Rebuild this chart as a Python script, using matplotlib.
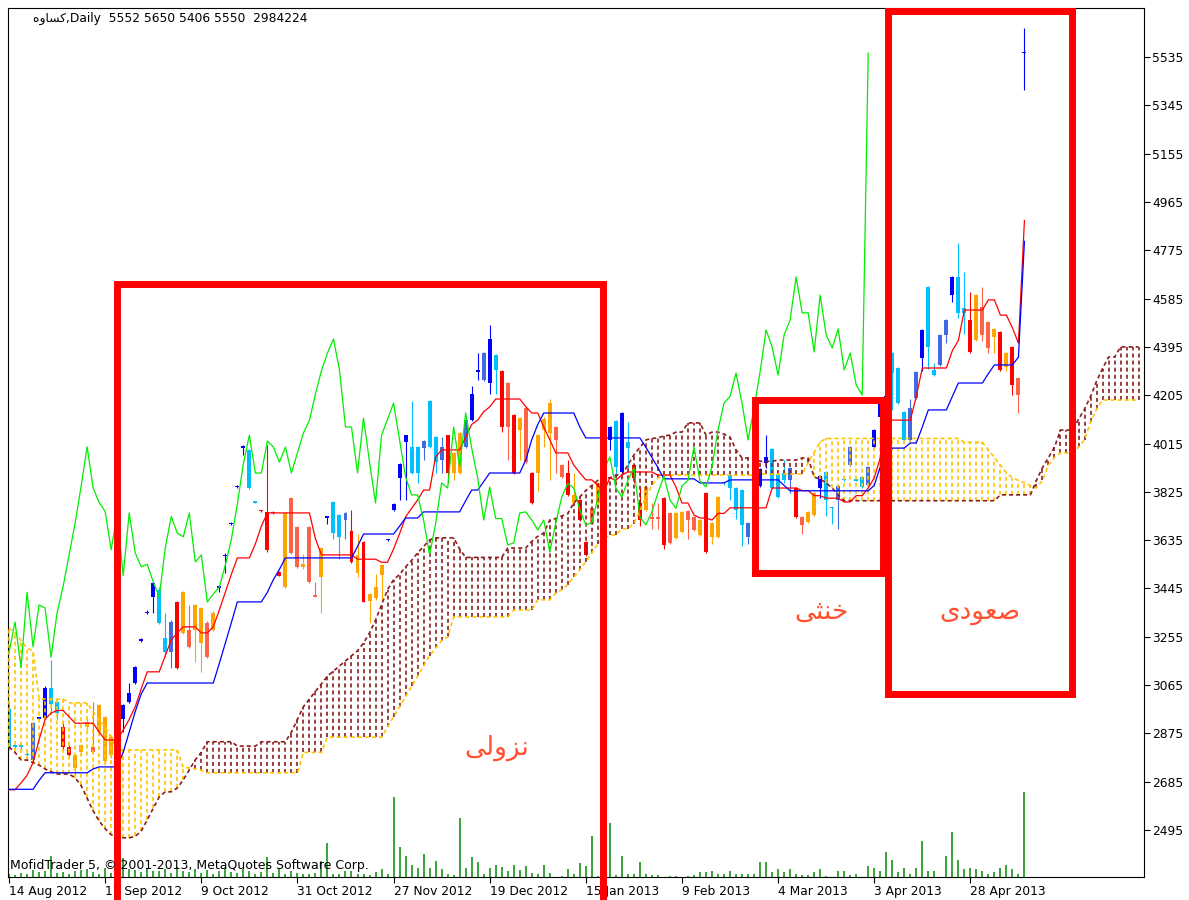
import numpy as np
import matplotlib.pyplot as plt
from matplotlib.transforms import blended_transform_factory

plt.rcParams['font.family'] = ['DejaVu Sans']
plt.rcParams['lines.scale_dashes'] = False

# ---- daily bars (bar 0 = 14 Aug 2012, bar 169 = last bar) ----
# colour code per bar: B blue, R royal blue, C sky blue, r red, o orange, t tomato
bar_colour = ("CCCCRBBCCr" "roootoooBB" "BBBBBCCRro" "tootoBBBBB" "CCrrrrotto"
              "ttoBCCRror" "oooBBBBCCR" "CCRrooRBBR" "BCrtrotroo" "ottrorrtoo"
              "BCBCrrottr" "toottorooC" "CCCRRBBCCC" "RrtooBCCRC" "RCCRBBBCCC"
              "RRBCCRRBCC" "rottorortB")
opens = [2970, 2830, 2830, 2794, 2770, 2932, 2935, 3055, 3000, 2900,
         2820, 2740, 2800, 2900, 2822, 2880, 2765, 2790, 2880, 2930,
         3000, 3075, 3240, 3347, 3412, 3440, 3250, 3195, 3392, 3270,
         3282, 3282, 3230, 3310, 3282, 3448, 3572, 3698, 3843, 3998,
         3990, 3787, 3752, 3746, 3744, 3509, 3450, 3801, 3687, 3530,
         3687, 3418, 3490, 3724, 3785, 3734, 3714, 3671, 3506, 3628,
         3396, 3408, 3498, 3634, 3754, 3880, 4021, 4001, 4001, 3998,
         4182, 4040, 3950, 4048, 3899, 3899, 4001, 4107, 4298, 4265,
         4253, 4363, 4300, 4253, 4127, 4068, 4155, 3899, 3899, 4070,
         4056, 4080, 3930, 3899, 3781, 3793, 3628, 3760, 3781, 3800,
         4029, 4103, 3903, 4021, 3930, 3781, 3754, 3724, 3724, 3801,
         3742, 3644, 3667, 3750, 3726, 3655, 3821, 3648, 3648, 3862,
         3891, 3840, 3832, 3648, 3760, 3848, 3938, 3993, 3891, 3900,
         3872, 3840, 3726, 3707, 3734, 3840, 3903, 3764, 3793, 3874,
         3930, 3872, 3883, 3852, 4001, 4119, 4170, 4371, 4312, 4139,
         4029, 4194, 4351, 4631, 4304, 4324, 4442, 4599, 4670, 4548,
         4501, 4422, 4552, 4493, 4434, 4454, 4316, 4395, 4273, 5552]
highs = [2990, 2835, 2835, 2800, 2920, 2940, 3060, 3165, 3010, 2920,
         2830, 2795, 2835, 2930, 3000, 2990, 2945, 2870, 2960, 2990,
         3073, 3140, 3250, 3360, 3470, 3450, 3350, 3320, 3395, 3435,
         3380, 3385, 3372, 3315, 3355, 3460, 3585, 3705, 3850, 4010,
         3992, 3790, 3755, 4009, 3748, 3512, 3745, 3805, 3690, 3580,
         3690, 3470, 3608, 3730, 3788, 3737, 3745, 3754, 3660, 3630,
         3426, 3500, 3540, 3640, 3780, 3938, 4050, 4182, 4005, 4028,
         4185, 4043, 4040, 4050, 3980, 4060, 4110, 4240, 4371, 4374,
         4481, 4366, 4303, 4256, 4130, 4118, 4158, 3902, 4051, 4120,
         4190, 4083, 3933, 3950, 3900, 3796, 3631, 3763, 3863, 3843,
         4083, 4106, 4138, 4100, 3933, 3840, 3847, 3780, 3780, 3804,
         3745, 3745, 3749, 3753, 3729, 3717, 3824, 3706, 3808, 3865,
         3900, 3843, 3835, 3706, 3803, 3918, 4048, 3996, 3894, 3950,
         3922, 3843, 3729, 3749, 3824, 3890, 3906, 3766, 3851, 3876,
         4004, 3874, 3886, 3926, 4071, 4177, 4230, 4374, 4315, 4142,
         4190, 4299, 4465, 4634, 4330, 4445, 4504, 4673, 4804, 4690,
         4610, 4602, 4630, 4496, 4469, 4457, 4374, 4398, 4276, 5650]
lows = [2810, 2815, 2815, 2785, 2765, 2930, 2930, 2960, 2930, 2810,
        2785, 2705, 2790, 2890, 2795, 2870, 2760, 2780, 2870, 2880,
        2995, 3070, 3235, 3345, 3350, 3305, 3175, 3133, 3130, 3265,
        3210, 3156, 3115, 3170, 3278, 3430, 3505, 3695, 3840, 3970,
        3838, 3780, 3745, 3590, 3736, 3492, 3445, 3580, 3525, 3520,
        3468, 3410, 3350, 3700, 3640, 3560, 3640, 3545, 3490, 3390,
        3310, 3400, 3400, 3630, 3750, 3793, 3793, 3895, 3860, 3950,
        3998, 3900, 3900, 3860, 3870, 3895, 3998, 4105, 4265, 4262,
        4210, 4210, 4060, 3950, 3896, 3950, 3940, 3778, 3830, 4000,
        3870, 3900, 3880, 3810, 3778, 3710, 3574, 3697, 3778, 3797,
        3990, 3880, 3900, 3920, 3860, 3690, 3750, 3680, 3680, 3600,
        3620, 3640, 3663, 3640, 3672, 3652, 3585, 3620, 3645, 3850,
        3793, 3720, 3610, 3620, 3757, 3845, 3920, 3837, 3802, 3860,
        3820, 3723, 3660, 3704, 3731, 3800, 3730, 3700, 3680, 3868,
        3927, 3866, 3841, 3849, 3998, 3990, 4150, 4147, 4171, 4026,
        4026, 4191, 4300, 4310, 4281, 4321, 4410, 4570, 4510, 4445,
        4372, 4419, 4420, 4370, 4370, 4301, 4300, 4205, 4135, 5406]
closes = [2820, 2822, 2822, 2788, 2915, 2938, 3055, 2990, 2955, 2820,
          2790, 2790, 2830, 2920, 2800, 2985, 2940, 2860, 2950, 2985,
          3035, 3137, 3246, 3353, 3467, 3310, 3195, 3313, 3133, 3430,
          3215, 3380, 3368, 3175, 3350, 3452, 3578, 3702, 3847, 4002,
          3840, 3783, 3748, 3597, 3740, 3495, 3742, 3585, 3530, 3540,
          3471, 3412, 3604, 3728, 3663, 3648, 3742, 3549, 3577, 3392,
          3423, 3450, 3537, 3638, 3777, 3935, 4048, 3899, 3899, 4025,
          4001, 3942, 4001, 3899, 3978, 4056, 4107, 4210, 4302, 4371,
          4426, 4304, 4080, 4080, 3899, 4115, 3942, 3781, 4048, 4110,
          4174, 4029, 3884, 3813, 3813, 3714, 3577, 3700, 3860, 3840,
          4080, 3923, 4135, 3997, 3880, 3714, 3844, 3720, 3720, 3616,
          3624, 3742, 3746, 3714, 3675, 3714, 3588, 3703, 3805, 3858,
          3840, 3754, 3695, 3703, 3800, 3915, 3962, 3840, 3805, 3870,
          3919, 3726, 3695, 3746, 3821, 3887, 3793, 3760, 3848, 3870,
          4001, 3868, 3844, 3923, 4068, 4174, 4200, 4292, 4174, 4029,
          4155, 4296, 4462, 4395, 4284, 4442, 4501, 4670, 4529, 4529,
          4375, 4599, 4442, 4391, 4466, 4304, 4371, 4245, 4206, 5550]
# volume in thousands of shares
volume_k = [105, 70, 140, 105, 246, 176, 211, 737, 140, 176,
            105, 211, 246, 281, 176, 105, 316, 140, 211, 667,
            281, 246, 176, 316, 211, 211, 281, 140, 351, 211,
            176, 281, 140, 246, 105, 211, 316, 176, 140, 281,
            211, 105, 176, 702, 140, 316, 105, 211, 140, 105,
            105, 140, 562, 1194, 105, 105, 211, 211, 105, 105,
            70, 176, 281, 105, 2809, 1053, 737, 421, 316, 807,
            316, 562, 281, 105, 70, 2071, 316, 702, 527, 105,
            316, 421, 351, 211, 421, 246, 386, 140, 105, 421,
            140, 0, 35, 281, 105, 491, 386, 1439, 35, 140,
            1896, 70, 737, 105, 105, 527, 105, 70, 70, 0,
            35, 35, 0, 35, 70, 176, 176, 211, 105, 105,
            211, 105, 105, 105, 105, 527, 527, 176, 281, 176,
            281, 105, 70, 70, 176, 281, 35, 0, 211, 211,
            70, 105, 0, 386, 316, 211, 878, 597, 176, 316,
            105, 316, 1264, 211, 211, 0, 737, 1580, 597, 281,
            316, 281, 211, 105, 176, 316, 421, 281, 105, 2984]

# ---- Ichimoku lines ----
tenkan = [2653, 2653, 2680, 2710, 2760, 2850, 2930, 2955, 2965, 2965,
          2940, 2915, 2915, 2915, 2915, 2880, 2849, 2849, 2849, 2888,
          2930, 2979, 3050, 3117, 3117, 3117, 3180, 3243, 3270, 3294,
          3294, 3294, 3270, 3270, 3294, 3360, 3430, 3500, 3565, 3565,
          3565, 3620, 3690, 3742, 3742, 3742, 3742, 3742, 3742, 3742,
          3742, 3640, 3577, 3577, 3577, 3577, 3577, 3577, 3560, 3560,
          3560, 3560, 3548, 3548, 3600, 3660, 3726, 3760, 3793, 3832,
          3832, 3962, 3990, 3990, 3990, 3990, 4040, 4090, 4107, 4140,
          4159, 4190, 4190, 4190, 4190, 4190, 4160, 4135, 4135, 4080,
          4030, 3978, 3978, 3978, 3930, 3900, 3872, 3872, 3850, 3825,
          3880, 3870, 3891, 3903, 3903, 3903, 3903, 3903, 3891, 3891,
          3891, 3844, 3781, 3781, 3734, 3722, 3722, 3714, 3740, 3740,
          3762, 3762, 3762, 3762, 3762, 3762, 3762, 3840, 3840, 3840,
          3840, 3840, 3830, 3830, 3810, 3810, 3800, 3800, 3800, 3785,
          3785, 3810, 3810, 3840, 3880, 3958, 4107, 4107, 4107, 4107,
          4107, 4200, 4312, 4312, 4312, 4312, 4312, 4380, 4420, 4540,
          4540, 4540, 4540, 4580, 4580, 4520, 4520, 4470, 4410, 4892]
kijun = [2655, 2655, 2655, 2655, 2655, 2690, 2720, 2720, 2720, 2720,
         2720, 2720, 2720, 2720, 2735, 2743, 2743, 2743, 2743, 2800,
         2880, 2960, 3030, 3073, 3073, 3073, 3073, 3073, 3073, 3073,
         3073, 3073, 3073, 3073, 3073, 3150, 3230, 3310, 3392, 3392,
         3392, 3392, 3392, 3430, 3480, 3520, 3565, 3565, 3565, 3565,
         3565, 3565, 3565, 3565, 3565, 3565, 3565, 3565, 3610, 3659,
         3659, 3659, 3659, 3659, 3659, 3690, 3722, 3722, 3722, 3746,
         3746, 3746, 3746, 3746, 3746, 3746, 3790, 3832, 3832, 3865,
         3899, 3899, 3899, 3899, 3899, 3899, 3950, 4030, 4090, 4135,
         4135, 4135, 4135, 4135, 4135, 4080, 4037, 4037, 4037, 4037,
         4037, 4037, 4037, 4037, 4037, 4037, 4000, 3960, 3920, 3876,
         3876, 3876, 3876, 3876, 3876, 3860, 3860, 3860, 3860, 3860,
         3872, 3872, 3872, 3872, 3872, 3872, 3872, 3872, 3872, 3850,
         3829, 3829, 3829, 3829, 3829, 3829, 3829, 3829, 3829, 3829,
         3829, 3829, 3829, 3829, 3850, 3923, 3960, 3997, 3997, 3997,
         4017, 4017, 4080, 4147, 4147, 4147, 4147, 4200, 4253, 4253,
         4253, 4253, 4253, 4290, 4324, 4324, 4324, 4324, 4355, 4810]
# senkou spans, already shifted 26 bars forward (bars 0..188)
span_a = [3290, 3270, 3240, 3210, 3200, 3010, 3010, 3010, 3010, 3010,
          2995, 2995, 2995, 2995, 2960, 2930, 2900, 2860, 2810, 2810,
          2810, 2810, 2810, 2810, 2810, 2810, 2810, 2810, 2810, 2740,
          2740, 2735, 2730, 2720, 2720, 2720, 2720, 2720, 2720, 2720,
          2720, 2720, 2720, 2720, 2720, 2720, 2720, 2720, 2720, 2800,
          2800, 2800, 2800, 2860, 2860, 2860, 2860, 2860, 2860, 2860,
          2860, 2860, 2860, 2900, 2940, 2980, 3020, 3060, 3100, 3140,
          3180, 3210, 3240, 3254, 3333, 3333, 3333, 3333, 3333, 3333,
          3333, 3333, 3333, 3333, 3360, 3360, 3360, 3360, 3400, 3400,
          3400, 3427, 3440, 3460, 3490, 3518, 3550, 3585, 3620, 3640,
          3655, 3655, 3680, 3680, 3700, 3750, 3805, 3850, 3880, 3891,
          3891, 3891, 3891, 3891, 3891, 3891, 3891, 3891, 3891, 3891,
          3891, 3891, 3891, 3891, 3891, 3895, 3895, 3895, 3895, 3895,
          3895, 3895, 3895, 3940, 3980, 4021, 4035, 4035, 4035, 4035,
          4035, 4035, 4035, 4035, 4035, 4035, 4035, 4035, 4035, 4035,
          4035, 4035, 4035, 4035, 4035, 4035, 4035, 4035, 4035, 4020,
          4020, 4020, 4020, 3990, 3960, 3930, 3900, 3880, 3870, 3860,
          3850, 3840, 3870, 3930, 3960, 3978, 3978, 3978, 4000, 4030,
          4100, 4150, 4186, 4186, 4186, 4186, 4186, 4186, 4186]
span_b = [2822, 2800, 2770, 2770, 2760, 2750, 2735, 2724, 2715, 2715,
          2715, 2700, 2670, 2620, 2570, 2530, 2500, 2476, 2476, 2464,
          2464, 2470, 2490, 2535, 2580, 2625, 2645, 2645, 2660, 2692,
          2731, 2771, 2800, 2842, 2842, 2842, 2842, 2842, 2825, 2825,
          2825, 2825, 2842, 2842, 2842, 2842, 2842, 2880, 2930, 2980,
          3010, 3040, 3070, 3100, 3120, 3140, 3160, 3180, 3200, 3230,
          3270, 3320, 3380, 3440, 3479, 3500, 3530, 3555, 3585, 3610,
          3636, 3644, 3644, 3644, 3644, 3600, 3567, 3567, 3567, 3567,
          3567, 3567, 3567, 3604, 3604, 3604, 3604, 3630, 3650, 3663,
          3714, 3720, 3730, 3740, 3781, 3805, 3830, 3850, 3870, 3880,
          3880, 3891, 3891, 3930, 3970, 4000, 4029, 4035, 4037, 4045,
          4048, 4060, 4060, 4096, 4096, 4096, 4048, 4060, 4060, 4052,
          4040, 3990, 3958, 3958, 3958, 3945, 3945, 3945, 3950, 3950,
          3950, 3950, 3958, 3958, 3883, 3875, 3860, 3840, 3813, 3790,
          3790, 3790, 3790, 3790, 3790, 3790, 3790, 3790, 3790, 3790,
          3790, 3790, 3790, 3790, 3790, 3790, 3790, 3790, 3790, 3790,
          3790, 3790, 3790, 3790, 3790, 3813, 3813, 3813, 3813, 3813,
          3813, 3870, 3920, 3960, 4000, 4068, 4068, 4068, 4110, 4150,
          4200, 4260, 4310, 4355, 4355, 4395, 4395, 4395, 4395]

date_labels = ['14 Aug 2012', '17 Sep 2012', '9 Oct 2012', '31 Oct 2012', '27 Nov 2012',
               '19 Dec 2012', '15 Jan 2013', '9 Feb 2013', '4 Mar 2013', '3 Apr 2013',
               '28 Apr 2013']
price_ticks = [2495, 2685, 2875, 3065, 3255, 3445, 3635, 3825, 4015, 4205,
               4395, 4585, 4775, 4965, 5155, 5345, 5535]

# annotation boxes (bar index / price) and their labels
fall_box = [17.9, 98.9, 4644]            # left, right, top (open at the bottom)
flat_box = [124.2, 145.4, 3506, 4186]    # left, right, bottom, top
rise_box = [146.3, 176.9, 3030, 5716]
# Persian words pre-shaped (presentation forms, visual order)
fall_word = '\uFEF0\uFEDF\uFEED\uFEB0\uFEE7'      # نزولی
flat_word = '\uFEF0\uFE9C\uFEE8\uFEA7'            # خنثی
rise_word = '\uFEEF\uFEA9\uFEEE\uFECC\uFEBB'      # صعودی
symbol = '\uFEE9\uFEED\uFE8E\uFEB4\uFEDB'         # کساوه

palette = {'B': '#0000FF', 'R': '#4169E1', 'C': '#00BFFF',
           'r': '#FF0000', 'o': '#FFA500', 't': '#FF6347'}
cloud_up, cloud_dn = '#FFC400', '#8B1C1C'

# ---- figure ----
W, H = 1189, 900
fig = plt.figure(figsize=(W / 100, H / 100), dpi=100)
ax = fig.add_axes([8 / W, 1 - 877 / H, (1144 - 8) / W, (877 - 8) / H])
ax.set_xlim(-0.17, 188.9)
ax.set_ylim(2310, 5728)

n = len(closes)
x = np.arange(n)
o = np.array(opens, float)
c = np.array(closes, float)
cols = [palette[k] for k in bar_colour]

# volumes at the bottom of the price window
vt = blended_transform_factory(ax.transData, ax.transAxes)
ax.vlines(x, 0, np.array(volume_k) / 30500.0, color='#008C00', lw=1.1,
          transform=vt, zorder=1)

# candles
ax.vlines(x, lows, highs, colors=cols, lw=0.8, zorder=2)
body_lo = np.minimum(o, c)
body_h = np.maximum(np.abs(c - o), 6)
ax.bar(x, body_h, bottom=body_lo, width=0.66, color=cols, linewidth=0, zorder=2)

# kumo, drawn as dotted columns between the spans
sa = np.array(span_a, float)
sb = np.array(span_b, float)
xs = np.arange(len(sa))
dots = (0, (2.9, 2.2))
up = sa >= sb
ax.vlines(xs[up], sb[up], sa[up], colors=cloud_up, lw=1.2, linestyles=[dots], zorder=3)
ax.vlines(xs[~up], sa[~up], sb[~up], colors=cloud_dn, lw=1.2, linestyles=[dots], zorder=3)
ax.plot(xs, sa, color=cloud_up, lw=1.2, ls=dots, zorder=3)
ax.plot(xs, sb, color=cloud_dn, lw=1.2, ls=dots, zorder=3)

# tenkan, kijun, chikou
ax.plot(x, tenkan, color='#FF0000', lw=0.9, zorder=4)
ax.plot(x, kijun, color='#0000FF', lw=0.9, zorder=4)
ax.plot(x[:n - 26], c[26:], color='#00EE00', lw=0.9, zorder=4)

# red annotation boxes
red = '#FF0000'
l, r_, top = fall_box
ax.plot([l, l, r_, r_], [2150, top, top, 2150], color=red, lw=5, clip_on=False,
        solid_joinstyle='miter', zorder=6)
for l, r_, b, t in (flat_box, rise_box):
    ax.plot([l, r_, r_, l, l], [b, b, t, t, b], color=red, lw=5,
            solid_joinstyle='miter', zorder=6)

word_kw = dict(color='#FF5030', fontsize=19, ha='center', va='center', zorder=7)
ax.text(81.2, 2817, fall_word, **word_kw)
ax.text(135.3, 3352, flat_word, **word_kw)
ax.text(161.6, 3352, rise_word, **word_kw)

# axes styling
ax.yaxis.tick_right()
ax.set_yticks(price_ticks)
ax.set_yticklabels([str(p) for p in price_ticks])
ax.set_xticks(np.arange(len(date_labels)) * 16)
ax.set_xticklabels(date_labels)
for lab in ax.get_xticklabels():
    lab.set_horizontalalignment('left')
ax.tick_params(axis='both', direction='out', length=4, width=0.8, labelsize=8.8,
               colors='black')
ax.tick_params(axis='x', pad=2)
ax.tick_params(axis='y', pad=2)
for s in ax.spines.values():
    s.set_linewidth(0.8)
    s.set_color('black')

fig.text(33 / W, 1 - 18 / H, symbol + ',Daily  5552 5650 5406 5550  2984224',
         fontsize=8.8, va='center', ha='left')
fig.text(10 / W, 1 - 866 / H, 'MofidTrader 5, \u00a9 2001-2013, MetaQuotes Software Corp.',
         fontsize=9, va='center', ha='left')

fig.savefig('out.png', dpi=100, facecolor='white')
